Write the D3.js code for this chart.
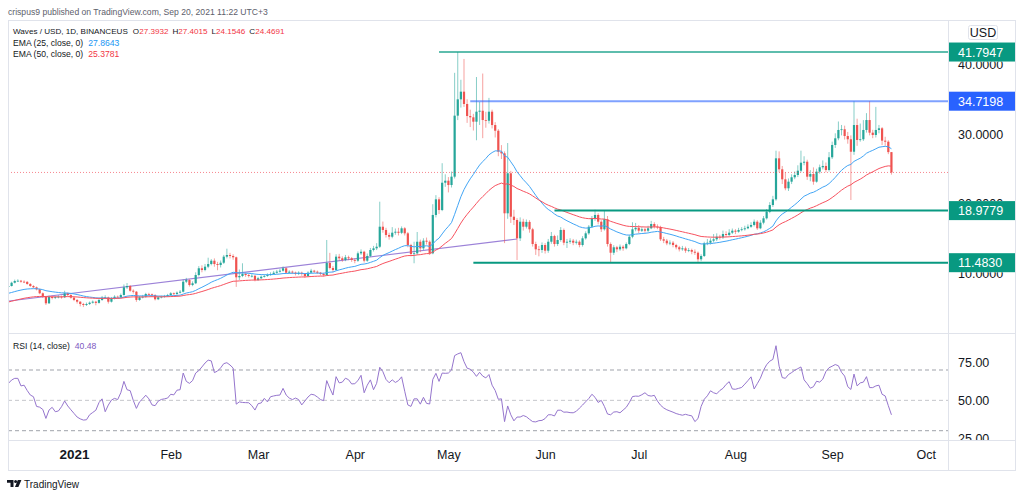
<!DOCTYPE html>
<html><head><meta charset="utf-8">
<script src="https://cdn.jsdelivr.net/npm/d3@7"></script>
<style>
body{margin:0;background:#fff;}
svg{display:block;font-family:"Liberation Sans",Arial,sans-serif;}
</style></head><body>
<svg id="c" width="1024" height="496"></svg>
<script>
// ---------------- DATA ----------------
const startDate = "2020-12-11";
const firstOpen = 8.05;
const closes = [
8.13,8.60,8.85,8.89,8.75,8.72,8.42,8.13,7.94,7.65,7.08,6.59,5.64,6.55,6.40,6.52,6.59,6.50,7.08,6.83,6.45,
6.12,5.87,5.54,5.40,5.54,5.73,5.87,5.70,6.12,6.45,6.50,5.87,6.36,6.59,6.50,6.83,7.94,8.13,7.45,7.31,6.12,6.50,6.59,6.98,6.94,6.83,6.22,6.50,6.59,6.69,6.83,
7.08,6.98,7.17,7.31,8.75,8.99,8.27,8.52,9.71,10.68,10.43,10.91,11.29,11.77,11.29,11.15,11.48,12.35,12.59,12.45,12.26,9.38,9.57,9.86,9.71,9.57,9.60,8.99,9.24,
9.47,9.57,9.71,9.86,10.04,10.19,10.33,10.68,10.04,10.19,10.06,9.86,10.04,9.88,9.57,10.05,10.33,10.19,10.04,9.86,9.71,11.44,10.72,10.43,12.35,12.12,11.87,12.26,12.12,11.87,
11.77,12.83,13.06,11.77,12.45,13.31,13.55,13.78,16.66,16.19,15.47,15.22,15.80,15.94,15.78,16.43,15.71,14.03,12.73,12.83,14.50,13.55,14.65,14.50,12.83,18.35,20.60,19.06,22.99,23.28,22.66,
23.86,32.64,34.99,36.09,34.32,32.59,32.40,31.77,33.21,33.35,32.01,31.91,33.21,31.29,30.47,27.45,27.22,18.59,24.35,18.10,17.63,14.99,17.38,16.66,17.35,16.29,14.17,13.41,13.31,14.03,
13.21,14.50,15.32,14.17,14.75,16.19,14.36,14.50,14.65,14.36,14.50,14.03,14.99,15.71,16.66,17.87,18.35,17.38,16.29,17.73,14.17,12.92,13.70,13.41,13.78,13.55,14.17,15.22,16.29,16.50,16.09,
16.29,16.09,16.43,17.05,16.66,16.62,14.85,14.65,14.27,14.36,14.03,13.70,13.41,13.55,13.21,13.31,13.06,12.92,11.97,12.45,14.27,14.36,14.65,14.85,15.22,15.14,15.61,15.47,15.80,16.09,15.94,
16.19,16.29,16.43,16.66,16.91,17.38,16.43,17.24,17.87,18.82,19.78,20.60,26.50,24.92,23.48,22.19,23.14,23.77,24.10,24.72,25.87,26.01,23.86,24.24,23.14,24.58,25.21,25.40,24.82,26.65,28.42,
29.38,30.58,30.68,29.71,29.24,27.45,31.29,29.14,29.24,30.58,32.01,30.19,29.86,30.58,30.82,29.04,28.89,27.3932,24.4691];
const highs = [
8.30,8.75,9.05,9.10,9.00,8.95,8.85,8.55,8.25,8.05,7.75,7.20,6.70,6.75,6.75,6.70,6.80,6.75,7.45,7.20,6.95,
6.55,6.25,5.95,5.70,5.75,5.90,6.05,6.00,6.30,6.70,6.80,6.60,6.55,6.80,6.75,7.05,8.35,8.55,8.25,7.65,7.40,6.70,6.85,7.15,7.15,7.05,6.95,6.65,6.75,6.85,7.00,
7.25,7.20,7.35,7.55,9.05,9.30,9.10,8.80,10.10,11.00,11.10,11.30,12.20,12.00,12.10,11.60,11.80,12.60,13.50,12.90,12.70,12.35,10.50,11.40,10.05,9.90,9.85,9.70,9.45,
9.65,9.80,9.95,10.10,10.30,10.45,10.60,10.95,10.80,10.40,10.35,10.20,10.25,10.20,10.00,10.25,10.60,10.45,10.35,10.15,10.05,14.75,12.90,11.00,12.70,12.75,12.40,12.60,12.50,12.30,
12.10,13.10,13.40,13.20,12.80,13.60,13.90,14.30,20.26,17.40,16.50,15.80,16.60,16.40,16.50,16.70,16.60,15.90,14.20,14.50,15.90,14.80,15.00,15.10,14.70,19.90,21.20,20.90,25.80,24.20,23.80,
24.60,38.80,41.7947,37.80,40.80,35.00,33.50,32.90,38.20,34.60,38.70,33.20,35.20,33.50,31.70,30.70,28.40,27.50,28.70,24.70,19.10,17.90,18.00,17.80,17.70,17.60,16.50,14.50,13.90,14.40,
14.30,14.90,15.90,15.50,15.40,16.60,16.40,14.90,15.00,14.90,14.80,14.70,15.30,16.00,16.90,18.20,19.10,18.60,17.60,19.00,18.20,14.40,14.00,13.90,14.10,14.00,14.40,15.50,17.30,17.20,16.90,
16.60,16.50,16.80,17.50,17.30,17.00,16.80,15.20,14.90,14.70,14.60,14.20,13.90,13.90,13.80,13.60,13.50,13.40,13.10,12.70,14.50,14.90,15.00,15.60,15.70,15.50,16.10,16.00,16.30,16.40,16.30,
16.50,16.60,16.80,17.00,17.30,17.70,17.60,17.60,18.20,19.20,20.20,21.10,27.60,27.50,25.40,24.50,23.60,24.20,24.60,25.50,27.60,26.80,26.30,24.80,25.20,25.00,25.60,26.20,25.90,27.40,28.90,
30.10,31.80,31.30,31.20,30.30,29.80,34.72,32.20,31.50,32.00,33.00,34.72,30.60,33.90,31.30,31.00,29.60,29.10,27.4015];
const lows = [
7.95,8.05,8.50,8.70,8.60,8.55,8.30,8.00,7.80,7.50,6.95,6.40,5.40,5.55,6.20,6.25,6.35,6.30,6.40,6.65,6.30,
5.95,5.60,5.20,5.10,5.25,5.40,5.60,5.35,5.60,6.00,6.25,5.60,5.75,6.20,6.30,6.40,6.75,7.70,7.30,7.05,5.85,6.00,6.35,6.45,6.75,6.60,6.05,6.10,6.35,6.45,6.55,
6.70,6.80,6.85,7.05,7.20,8.55,8.05,8.10,8.40,9.50,10.10,10.25,10.70,11.10,10.90,10.40,10.80,11.30,12.10,12.10,11.90,8.00,9.00,9.40,9.45,9.35,9.35,8.80,8.85,
9.10,9.35,9.45,9.60,9.75,9.90,10.05,10.20,9.90,9.90,9.85,9.65,9.70,9.60,9.30,9.45,9.95,10.00,9.85,9.65,9.50,9.60,10.50,10.10,10.30,11.80,11.60,11.70,11.85,11.60,
11.40,11.60,12.60,11.50,11.60,12.30,13.10,13.30,13.60,15.80,15.10,14.80,15.00,15.50,15.40,15.60,15.40,13.70,12.40,11.40,12.60,13.00,13.30,14.10,12.60,12.70,18.00,18.50,18.90,22.40,21.60,
22.30,23.60,32.00,33.80,33.90,31.60,31.00,30.50,29.10,31.30,29.40,30.90,31.50,30.80,29.50,26.80,26.40,14.30,17.80,17.20,16.90,11.87,14.60,16.10,16.40,15.80,13.80,12.60,12.40,12.90,
12.80,12.90,14.20,13.80,13.90,14.50,14.00,13.60,14.20,14.00,14.10,13.70,13.80,14.80,15.50,16.50,17.50,17.00,15.90,16.10,13.80,11.48,12.60,13.00,13.20,13.20,13.40,14.00,15.00,16.00,15.70,
15.90,15.80,15.90,16.30,16.40,16.30,14.60,14.30,14.00,14.00,13.70,13.40,13.10,13.20,12.90,13.00,12.70,12.60,11.60,11.70,12.30,14.00,14.10,14.40,14.60,14.80,14.90,15.20,15.30,15.60,15.60,
15.80,16.00,16.10,16.30,16.50,16.70,16.20,16.30,17.00,17.70,18.60,19.50,20.40,24.50,22.80,21.90,21.80,22.80,23.50,23.80,24.50,25.50,23.40,23.20,22.70,23.00,24.30,24.90,24.50,24.60,26.40,
28.00,29.10,29.80,29.20,28.60,20.50,27.00,28.30,28.90,29.00,30.20,29.80,29.40,29.50,30.10,28.40,28.30,27.10,24.1546];
const rsiValues = [
61.2,63.4,64.5,64.5,59.5,60,56.5,53.5,52.4,46,45.5,44,38.1,43.6,45.4,42.5,43,45.8,49.6,46.3,43.8,
41.4,39,37.8,37,37.2,40.5,42,43.5,48.5,51,42.5,46.9,50.2,51.3,50.5,55,62.5,57,56.4,50,44.7,49,51,53.4,51,47,46.5,49.5,50.6,51,51.5,
54,53.6,56.7,57,68,62.5,61.2,63,68,69.6,72,74.6,76.5,76,68.3,69.3,71.4,74.2,74.8,73.3,71.3,47.5,49,48.6,48.5,48.4,46.5,43.6,47.8,
48.3,51.3,49,52.4,52.9,53.3,53.5,57.9,53.5,51.5,50.5,51.5,50.5,47,49.6,52.2,54,53.6,52.2,50.5,49.8,63,58,53.5,65.6,61.5,62,64.6,63.6,60.8,
61,63,66.5,55,60,63.5,57,61.2,71.8,68.9,63.8,61.6,63.5,61.8,63,65.5,56,47,46,51,51,47.5,52,48,47.6,63.8,67.8,62.5,68,67.8,68,
70,79.5,80.6,81.4,75.5,71.2,70.5,68.6,65.8,68.5,66,64.8,67,60,56.5,50.7,51,36,46.3,40.5,36.5,39,39,40,39.2,37.5,36,35.8,36.6,36.8,
38,40.5,40.5,39.7,43.5,43.5,42.2,42.3,41.9,41.8,42.8,44.9,46.9,49.1,51.2,54,52,48.6,50,46,41,40.5,42.3,42.5,41.8,43.6,45.4,48.6,52.5,52.8,52.7,
53.7,55,53.2,52.8,53.3,49.5,46.8,45,43.8,43,42.2,41.3,40.7,40.2,40.8,40.2,39.8,36,38,46,50.7,53,56.3,55,54.3,56.5,57.9,60.5,62.3,57.5,57.3,
57.9,58.5,60.7,63,65.5,57.5,61,64.6,69.8,73.5,75.8,77,86,72.5,65,64.5,67,68.3,69.8,70.9,72,63.5,61,58,59,62.6,62,64,69,71.5,72.5,
73.6,72.8,68.5,66,59,57.2,67.3,59.5,61.5,62,65.6,58.4,58.4,59.5,60,54,52.9,46.5,40.48];
const emaSeeds = [7.08, 5.83];        // EMA25, EMA50 at the first visible bar
const emaLengths = [25, 50];
const emaLegend = ["27.8643", "25.3781"];
const rsiLegend = "40.48";
const levelValues = [41.7947, 34.7198, 18.9779, 11.4830];
const levelStarts = ["2021-04-28", "2021-05-08", "2021-06-04", "2021-05-09"];
const trendDates = ["2020-12-11", "2021-05-23"];
const trendValues = [5.97, 14.89];
const monthTicks = ["2021-01-01","2021-02-01","2021-03-01","2021-04-01","2021-05-01","2021-06-01","2021-07-01","2021-08-01","2021-09-01","2021-10-01"];
const monthLabels = ["2021","Feb","Mar","Apr","May","Jun","Jul","Aug","Sep","Oct"];
const priceTicks = [10, 20, 30, 40];
const rsiTicks = [25, 50, 75];
const rsiBands = [70, 50, 30];

// ---------------- LAYOUT ----------------
const svg = d3.select("#c");
const L = 8, PR = 948, R = 1016, T = 20, MB = 333, RB = 440, B = 471;
const parse = d3.utcParse("%Y-%m-%d");
const t0 = parse(startDate);
const dates = closes.map((_, i) => d3.utcDay.offset(t0, i));
const opens = closes.map((c, i) => i === 0 ? firstOpen : closes[i - 1]);

const x = d3.scaleUtc().domain([parse("2021-01-01"), parse("2021-10-01")]).range([74, 925.76]);
const y = d3.scaleLinear().domain([10, 40]).range([273, 64.5]);
const yr = d3.scaleLinear().domain([30, 70]).range([430.7, 370]);

function ema(src, n, seed) {
  const a = 2 / (n + 1); let e = seed;
  return src.map((c, i) => (e = i === 0 ? seed : a * c + (1 - a) * e));
}

const UP = "#26a69a", DN = "#ef5350", TEAL = "#089981", BLUE = "#2962ff";

// header
svg.append("text").attr("x", 8).attr("y", 14.5).attr("font-size", 8.6).attr("fill", "#5d606b")
  .text("crispus9 published on TradingView.com, Sep 20, 2021 11:22 UTC+3");

// frame
svg.append("rect").attr("x", L + 0.5).attr("y", T + 0.5).attr("width", R - L - 1).attr("height", B - T - 1)
  .attr("fill", "#fff").attr("stroke", "#e0e3eb");
svg.append("line").attr("x1", L).attr("x2", R).attr("y1", MB + 0.5).attr("y2", MB + 0.5).attr("stroke", "#e0e3eb");
svg.append("line").attr("x1", L).attr("x2", R).attr("y1", RB + 0.5).attr("y2", RB + 0.5).attr("stroke", "#e0e3eb");
svg.append("line").attr("x1", PR + 0.5).attr("x2", PR + 0.5).attr("y1", T).attr("y2", B).attr("stroke", "#e0e3eb");

const defs = svg.append("defs");
defs.append("clipPath").attr("id", "cm").append("rect").attr("x", L + 1).attr("y", T + 1).attr("width", PR - L - 1).attr("height", MB - T - 1);
defs.append("clipPath").attr("id", "cr").append("rect").attr("x", L + 1).attr("y", MB + 1).attr("width", PR - L - 1).attr("height", RB - MB - 1);

const gm = svg.append("g").attr("clip-path", "url(#cm)");

// trend line
gm.append("line").attr("x1", x(parse(trendDates[0]))).attr("y1", y(trendValues[0]))
  .attr("x2", x(parse(trendDates[1]))).attr("y2", y(trendValues[1]))
  .attr("stroke", "#9c82d8").attr("stroke-width", 1.1);

// candles
const bw = 2.2;
const cg = gm.append("g");
closes.forEach((c, i) => {
  const o = opens[i], up = c >= o, col = up ? UP : DN, cx = x(dates[i]);
  const hi = Math.max(highs[i], o, c), lo = Math.min(lows[i], o, c);
  cg.append("line").attr("x1", cx).attr("x2", cx).attr("y1", y(hi)).attr("y2", y(lo))
    .attr("stroke", col).attr("stroke-width", 1).attr("stroke-opacity", 0.55);
  const top = y(Math.max(o, c)), bot = y(Math.min(o, c));
  cg.append("rect").attr("x", cx - bw / 2).attr("width", bw).attr("y", top).attr("height", Math.max(0.8, bot - top)).attr("fill", col);
});

// EMAs
const emaColors = ["#42a5f5", "#f7525f"];
emaLengths.forEach((n, k) => {
  const e = ema(closes, n, emaSeeds[k]);
  gm.append("path").attr("fill", "none").attr("stroke", emaColors[k]).attr("stroke-width", 1)
    .attr("d", d3.line().x((_, i) => x(dates[i])).y(v => y(v))(e));
});

// horizontal levels
const levelColors = [TEAL, BLUE, TEAL, TEAL];
const levelOpac = [0.65, 0.6, 1, 1];
levelValues.forEach((v, k) => {
  gm.append("line").attr("x1", x(parse(levelStarts[k]))).attr("x2", PR).attr("y1", y(v)).attr("y2", y(v))
    .attr("stroke", levelColors[k]).attr("stroke-opacity", levelOpac[k]).attr("stroke-width", 2);
});

// last price line
const last = closes[closes.length - 1];
gm.append("line").attr("x1", L).attr("x2", PR).attr("y1", y(last)).attr("y2", y(last))
  .attr("stroke", "#f23645").attr("stroke-opacity", 0.6).attr("stroke-dasharray", "1,2");

// legend
const lg = svg.append("g").attr("font-size", 8.6).attr("fill", "#131722");
const n = closes.length - 1;
const t1 = lg.append("text").attr("x", 13).attr("y", 33.5).attr("font-size", 8.1);
t1.append("tspan").text("Waves / USD, 1D, BINANCEUS");
[["O", opens[n]], ["H", highs[n]], ["L", lows[n]], ["C", closes[n]]].forEach((p, j) => {
  t1.append("tspan").attr("dx", j === 0 ? 5 : 4).text(p[0]);
  t1.append("tspan").attr("fill", "#f23645").text(d3.format(".4f")(p[1]));
});
emaLengths.forEach((len, k) => {
  const t = lg.append("text").attr("x", 13).attr("y", 45.5 + k * 11.5);
  t.append("tspan").text(`EMA (${len}, close, 0)`);
  t.append("tspan").attr("dx", 5).attr("fill", k === 0 ? "#2196f3" : "#f23645").text(emaLegend[k]);
});

// RSI pane
const gr = svg.append("g").attr("clip-path", "url(#cr)");
rsiBands.forEach((v, k) => gr.append("line").attr("x1", L).attr("x2", PR).attr("y1", yr(v)).attr("y2", yr(v))
  .attr("stroke", "#9598a1").attr("stroke-opacity", k === 1 ? 0.55 : 0.9).attr("stroke-dasharray", "4,3"));
gr.append("path").attr("fill", "none").attr("stroke", "#9575cd").attr("stroke-width", 1)
  .attr("d", d3.line().x((_, i) => x(dates[i])).y(v => yr(v))(rsiValues));
const rt = svg.append("text").attr("x", 13).attr("y", 348.5).attr("font-size", 8.6).attr("fill", "#131722");
rt.append("tspan").text("RSI (14, close)");
rt.append("tspan").attr("dx", 5).attr("fill", "#7e57c2").text(rsiLegend);

// axes
const axisFont = 12.5;
const boxH = 19;
let cp = `M${PR},${T}H${R}V${MB}H${PR}Z`;
levelValues.forEach(v => { const yy = y(v) - boxH / 2; cp += `M${PR},${yy}H${R}V${yy + boxH}H${PR}Z`; });
defs.append("clipPath").attr("id", "ca").append("path").attr("d", cp).attr("clip-rule", "evenodd");

const yaWrap = svg.append("g").attr("clip-path", "url(#ca)");
const ya = yaWrap.append("g").attr("transform", `translate(${PR},0)`)
  .call(d3.axisRight(y).tickValues(priceTicks).tickFormat(d3.format(".4f")).tickSize(0).tickPadding(10));
ya.select(".domain").remove();
ya.selectAll("text").attr("font-size", axisFont).attr("fill", "#131722").attr("font-family", "Liberation Sans, Arial");

defs.append("clipPath").attr("id", "crl").append("rect").attr("x", PR).attr("y", MB + 1).attr("width", R - PR).attr("height", RB - MB - 1);
const raWrap = svg.append("g").attr("clip-path", "url(#crl)");
const ra = raWrap.append("g").attr("transform", `translate(${PR},0)`)
  .call(d3.axisRight(yr).tickValues(rsiTicks).tickFormat(d3.format(".2f")).tickSize(0).tickPadding(10));
ra.select(".domain").remove();
ra.selectAll("text").attr("font-size", axisFont).attr("fill", "#131722").attr("font-family", "Liberation Sans, Arial");

const xa = svg.append("g").attr("transform", `translate(0,${RB})`)
  .call(d3.axisBottom(x).tickValues(monthTicks.map(parse)).tickFormat((d, i) => monthLabels[i]).tickSize(0));
xa.select(".domain").remove();
xa.selectAll("text").attr("y", 18.5).attr("dy", 0).attr("fill", "#131722")
  .attr("font-family", "Liberation Sans, Arial")
  .attr("font-weight", (d, i) => i === 0 ? "bold" : null)
  .attr("font-size", (d, i) => i === 0 ? 13.5 : axisFont);

// USD label
svg.append("rect").attr("x", 968.5).attr("y", 25.5).attr("width", 29).attr("height", 14).attr("rx", 2)
  .attr("fill", "#fff").attr("stroke", "#e0e3eb");
svg.append("text").attr("x", 983).attr("y", 37).attr("text-anchor", "middle").attr("font-size", axisFont).attr("fill", "#131722").text("USD");

// level price labels
const boxColors = [TEAL, BLUE, TEAL, TEAL];
levelValues.forEach((v, k) => {
  svg.append("rect").attr("x", PR + 1).attr("y", y(v) - boxH / 2).attr("width", 66).attr("height", boxH).attr("fill", boxColors[k]);
  svg.append("text").attr("x", 958).attr("y", y(v) + 4.6).attr("font-size", axisFont).attr("fill", "#fff").text(d3.format(".4f")(v));
});

// TradingView logo
const lgo = svg.append("g").attr("fill", "#131722");
lgo.append("path").attr("d", "M7 480h6.5v7h-3v-4.3h-3.5z");
lgo.append("circle").attr("cx", 15.6).attr("cy", 481.6).attr("r", 1.5);
lgo.append("path").attr("d", "M17.8 480h3.6l-3 7h-3.4z");
svg.append("text").attr("x", 24).attr("y", 487.5).attr("font-size", 10).attr("fill", "#131722").text("TradingView");
</script>
</body></html>
